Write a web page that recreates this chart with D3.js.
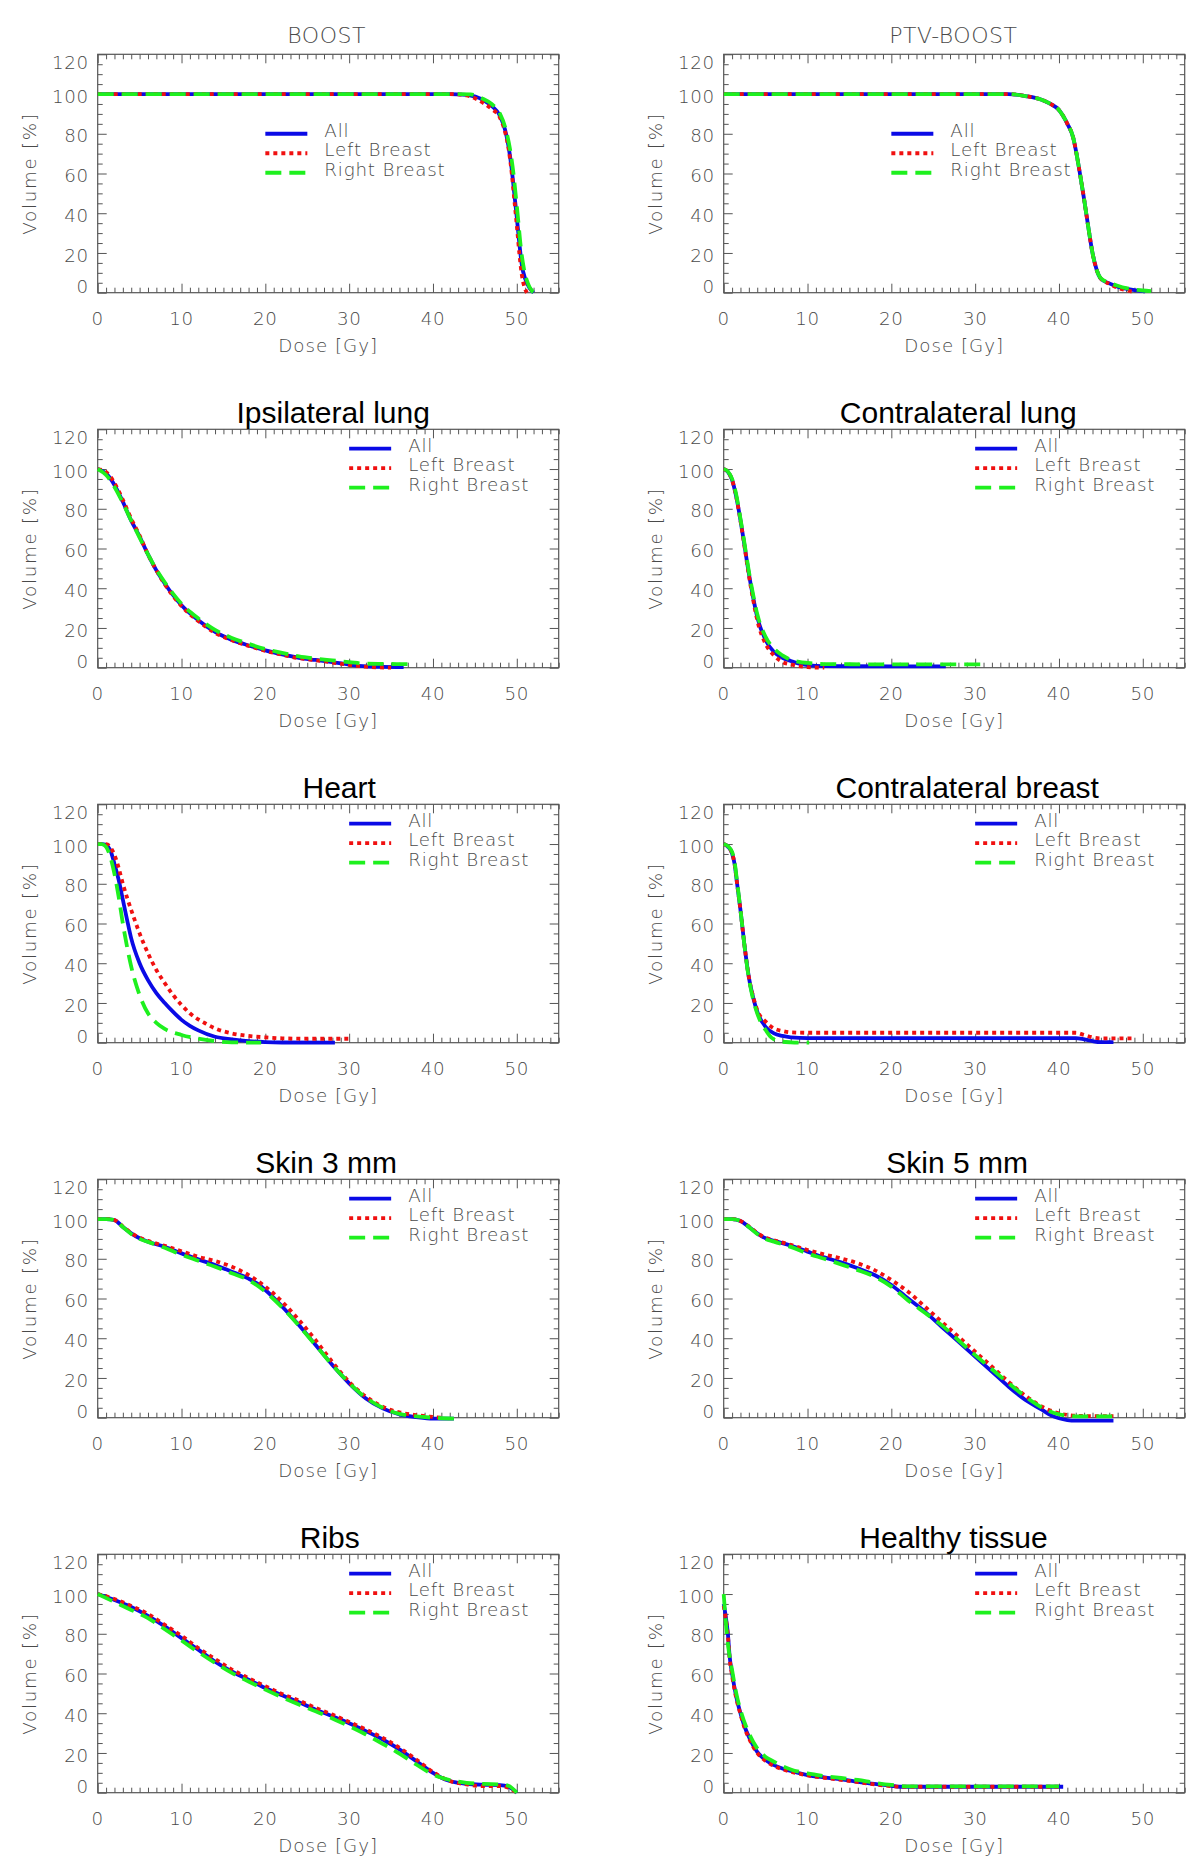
<!DOCTYPE html>
<html><head><meta charset="utf-8">
<script src="https://cdn.jsdelivr.net/npm/d3@7"></script>
<style>body{margin:0;background:#fff} svg{display:block}</style>
</head><body>
<svg id="chart" width="1200" height="1872"></svg>
<script>
// ---------------- data ----------------
const panelTitles = ["BOOST","PTV-BOOST","Ipsilateral lung","Contralateral lung","Heart","Contralateral breast","Skin 3 mm","Skin 5 mm","Ribs","Healthy tissue"];
const seriesNames = ["All","Left Breast","Right Breast"];
const xTickValues = [0,10,20,30,40,50];
const yTickValues = [0,20,40,60,80,100,120];
const xAxisTitle = "Dose [Gy]";
const yAxisTitle = "Volume [%]";

const boostAll = [[0,100],[42,100],[44,99.6],[46,97],[47,94],[48,89],[48.6,82],[49,74],[49.4,62],[49.7,50],[50,38],[50.3,25],[50.6,14],[51,7],[51.5,2.5],[52,0]];
const boostLeft = [[0,100],[42,100],[44,99.3],[46,95.5],[47,92.5],[48,88],[48.6,81],[49,73],[49.4,60],[49.7,47],[50,34],[50.3,20],[50.6,9],[50.9,3],[51.2,0]];
const boostRight = [[0,100],[43,100],[44.5,99.8],[46,97.5],[47,95],[48,90],[48.7,82],[49.2,72],[49.6,60],[49.9,48],[50.2,35],[50.5,22],[50.9,11],[51.3,5],[51.8,1],[52.1,0]];

const ptvAll = [[0,100],[34,100],[36,99],[38,97],[39,95],[40,92],[41,85],[41.7,78],[42,72],[42.5,60],[43,47],[43.5,33],[44,20],[44.5,11.5],[45,7],[46,4.7],[47,3],[48,2],[49,1.3],[50,0.8],[50.3,0.6]];
const ptvLeft = [[0,100],[34,100],[36,99],[38,97],[39,95],[40,92],[41,85],[41.7,78],[42,72],[42.5,60],[43,47],[43.5,33],[44,20],[44.5,11.5],[45,7],[46,4.5],[47,2.5],[48,1.2],[48.8,0.5]];
const ptvRight = [[0,100],[34,100],[36,99],[38,97],[39,95],[40,92],[41,85],[41.7,78],[42,72],[42.5,60],[43,47],[43.5,33],[44,20],[44.5,11.5],[45,7.2],[46,5],[47,3.5],[48,2.3],[49,1.6],[50,1.1],[51,0.8]];

const ipsiAll = [[0,100],[1,97.8],[2,92],[3,83.5],[4,74],[5,66],[6,57],[7,49],[8,42.4],[9,36.5],[10,31.4],[12,23.9],[14,18],[16,14],[18,11.2],[20,8.7],[22,6.7],[24,5],[26,3.9],[28,2.8],[30,1.6],[32,0.7],[34,0.4],[36.5,0.3]];
const ipsiLeft = [[0,100],[1,98.5],[2,93],[3,84.5],[4,75],[5,66.5],[6,57],[7,49],[8,42],[9,36],[10,31],[12,23.5],[14,17.6],[16,13.8],[18,11],[20,8.5],[22,6.5],[24,4.8],[26,3.7],[28,2.6],[30,1.4],[32,0.5],[35,0]];
const ipsiRight = [[0,100],[1,97],[2,91],[3,83],[4,74],[5,65.5],[6,57],[7,49.5],[8,43],[9,37.2],[10,32.2],[12,24.8],[14,19],[16,15],[18,12],[20,9.4],[22,7.5],[24,5.7],[26,4.6],[28,3.7],[30,2.8],[32,2],[34,1.9],[37,1.8]];

const contraLungAll = [[0,100],[0.5,98.6],[1,94.5],[1.5,86],[2,74.3],[2.5,61],[3,47.4],[3.5,35.6],[4,25.5],[5,13.8],[6,7.9],[7,5],[8,3.4],[9,2],[10,1.3],[12,0.8],[20,0.7],[26.5,0.7]];
const contraLungLeft = [[0,100],[0.5,98.6],[1,94.5],[1.5,86],[2,74],[2.5,60.5],[3,46.5],[3.5,34.5],[4,24],[5,12],[6,6.2],[7,2.9],[8,1.7],[9,0.8],[10,0.3],[12,0]];
const contraLungRight = [[0,100],[0.5,98.8],[1,95],[1.5,87],[2,75],[2.5,62],[3,48.5],[3.5,37],[4,27],[5,15.5],[6,9.6],[7,6.2],[8,4],[9,2.9],[10,2.4],[12,1.8],[20,1.7],[30.7,1.7]];

const heartAll = [[0,100],[0.5,100],[1,99.5],[1.5,97],[2,90],[2.5,82],[3,72],[3.5,62],[4,52.5],[5,40],[6,31.5],[7,25],[8,20],[9,15.5],[10,11.5],[11,8.5],[12,6.2],[14,3],[16,1.7],[18,0.8],[20,0.3],[22,0.1],[28.3,0]];
const heartLeft = [[0,100],[1,100],[1.5,98.5],[2,94.5],[2.5,88],[3,80],[4,66.8],[5,55],[6,45],[7,36.6],[8,30],[9,24],[10,19],[11,14.8],[12,11.7],[13,9.4],[14,7.2],[16,4.7],[18,3.4],[20,2.7],[22,2.2],[25,2],[30,2]];
const heartRight = [[0,100],[0.5,100],[1,98.6],[1.5,93.6],[2,85],[2.5,73.5],[3,60],[3.5,48.3],[4,38.3],[5,24],[6,14.8],[7,10],[8,6.9],[10,3.9],[12,2],[14,0.8],[16,0.2],[19.5,0]];

const contraBreastAll = [[0,100],[0.5,98.7],[1,95.3],[1.3,90],[1.6,80],[2,66.8],[2.5,48.3],[3,33],[3.5,23],[4,15.6],[5,8],[6,4.7],[7,3.4],[8,2.7],[10,2.3],[42,2.3],[43,1.7],[44,0.8],[45,0.3],[46.5,0.3]];
const contraBreastLeft = [[0,100],[0.5,98.7],[1,95.3],[1.3,90],[1.6,80],[2,66.8],[2.5,48.3],[3,33],[3.5,23.5],[4,16.4],[5,10.6],[6,7.2],[7,5.9],[8,5.2],[10,5],[42,5],[43,3.9],[44,2.7],[45,2.2],[49,2.2]];
const contraBreastRight = [[0,100],[0.5,98.9],[1,96],[1.3,91],[1.6,81],[2,67],[2.5,48],[3,32.5],[3.5,22],[4,14.8],[4.5,9.7],[5,6.4],[5.5,3.4],[6,1.7],[7,0.5],[8,0.2],[10.2,0]];

const skin3All = [[0,100],[1,100],[2,99.5],[3,96],[4,92.8],[5,90.3],[6,88.6],[8,86],[10,82.7],[12,79.7],[14,76.8],[16,73.5],[18,70],[19,67.6],[20,64.3],[22,56],[24,46.6],[26,36.6],[28,26.5],[30,17.3],[32,9.7],[34,4.7],[36,1.7],[38,0.3],[40,-0.5],[42.5,-0.5]];
const skin3Left = [[0,100],[1,100],[2,99.5],[3,96.3],[4,93],[5,90.6],[6,89],[8,86.5],[10,83.8],[12,81],[14,78.9],[16,76],[18,71.8],[20,66],[22,58.4],[24,49.2],[26,39],[28,28],[30,18],[32,10.6],[34,5.5],[36,2.7],[38,1.3],[40,0.4],[41,0]];
const skin3Right = [[0,100],[1,100],[2,99.5],[3,96],[4,92.5],[5,90],[6,88.5],[8,85.5],[10,82],[12,79],[14,76],[16,72.7],[18,69.3],[20,63.4],[22,55.5],[24,46.3],[26,36.5],[28,26.5],[30,17.5],[32,10],[34,5],[36,1.9],[38,0.7],[40,0],[42.5,-0.5]];

const skin5All = [[0,100],[1,100],[2,99],[3,96],[4,92.8],[5,90.3],[6,89],[8,86.6],[10,83.6],[12,80.7],[14,78.2],[16,75.2],[18,71.8],[20,66.8],[22,60],[24,53.4],[26,45.8],[28,38.3],[30,30.7],[32,23.2],[34,15.6],[36,8.9],[38,3.9],[39,1.3],[40,-0.3],[41,-1.2],[42,-1.5],[46.5,-1.5]];
const skin5Left = [[0,100],[1,100],[2,99],[3,96.3],[4,93],[5,90.6],[6,89.3],[8,87],[10,84.4],[12,82.2],[14,80.2],[16,77.7],[18,74.3],[20,69.3],[22,63.4],[24,55.9],[26,48.3],[28,40.8],[30,33.2],[32,25.7],[34,18],[36,11],[38,5.5],[40,2.2],[42,1],[44,0.8],[46.5,0.8]];
const skin5Right = [[0,100],[1,100],[2,99],[3,96],[4,92.5],[5,90],[6,88.6],[8,86],[10,82.7],[12,80],[14,77.2],[16,74.3],[18,71],[20,66],[22,59],[24,52.8],[26,46.6],[28,39],[30,31.5],[32,24.4],[34,17.3],[36,10.6],[38,5],[40,1.7],[42,0.7],[47,0.7]];

const ribsAll = [[0,100],[2,97],[4,93.5],[6,89],[8,83.7],[10,77.8],[12,72],[14,66],[16,61],[18,56.9],[20,52.7],[22,49],[24,45.5],[26,41.8],[28,38.5],[30,35],[32,31],[34,26.8],[36,21.8],[38,15.9],[40,10],[41,7.5],[42,5.9],[44,4.5],[46,4],[48,3.8],[49,3],[50,0]];
const ribsLeft = [[0,100],[2,97.5],[4,94],[6,90],[8,84.5],[10,79],[12,72.8],[14,67.3],[16,62],[18,57.7],[20,53.6],[22,49.7],[24,46.4],[26,42.7],[28,39.3],[30,35.6],[32,31.8],[34,27.6],[36,22.6],[38,16.7],[40,10.4],[42,5.9],[44,4.2],[46,3.3],[48,3.3],[49,2.5],[50,0]];
const ribsRight = [[0,100],[2,96],[4,92],[6,87.9],[8,82.3],[10,76.6],[12,70.8],[14,65.3],[16,60.3],[18,56],[20,51.9],[22,48],[24,44.4],[26,41],[28,37.3],[30,33.5],[32,29.3],[34,24.6],[36,19.7],[38,14.2],[40,9.2],[42,6.4],[44,5],[46,4.4],[48,4.2],[49,3.5],[50,0]];

const healthyAll = [[0,95],[0.2,90],[0.5,80],[0.7,69],[1,60],[1.5,48.3],[2,40],[2.5,33.2],[3,28.2],[4,20.6],[5,16.4],[6,13.9],[7,12.2],[8,10.9],[10,8.9],[12,7.7],[14,6.7],[16,5.5],[18,4.4],[20,3.5],[21,3],[30,3],[40.5,3]];
const healthyLeft = [[0,94],[0.2,89],[0.5,79],[0.7,68],[1,59],[1.5,47.5],[2,39.5],[2.5,32.5],[3,27.5],[4,20],[5,16],[6,13.5],[7,11.8],[8,10.6],[10,8.7],[12,7.5],[14,6.5],[16,5.3],[18,4.2],[20,3.3],[21,3],[30,3],[40,3]];
const healthyRight = [[0,100],[0.3,83.6],[0.5,75],[1,61.7],[1.5,50],[2,41.6],[3,30],[4,22.3],[5,18],[6,15.6],[8,11.7],[10,9.7],[12,8.4],[14,7.4],[16,6.4],[18,5],[20,3.9],[22,3.2],[30,3.2],[40,3.2]];

const panelSeries = [
  [boostAll, boostLeft, boostRight],
  [ptvAll, ptvLeft, ptvRight],
  [ipsiAll, ipsiLeft, ipsiRight],
  [contraLungAll, contraLungLeft, contraLungRight],
  [heartAll, heartLeft, heartRight],
  [contraBreastAll, contraBreastLeft, contraBreastRight],
  [skin3All, skin3Left, skin3Right],
  [skin5All, skin5Left, skin5Right],
  [ribsAll, ribsLeft, ribsRight],
  [healthyAll, healthyLeft, healthyRight]
];

// ---------------- layout / style ----------------
const colLeft = [97.7, 723.7];
const rowTop = [54.3, 429.3, 804.3, 1179.3, 1554.3];
const W = 461, H = 238.4;
const titleDx = [-1.6, -0.9, 5, 4, 11, 13, -2, 3, 1.6, -0.7];
const seriesColor = ["#0a0ae6", "#f01010", "#1ef01e"];
const seriesDash = [null, "4,4", "16,8"];
const gray = "#4a4a4a";
const frameColor = "#555";
const hFont = "'DejaVu Sans', sans-serif";

const svg = d3.select("#chart");
const x = d3.scaleLinear().domain([0, 55]).range([0, W]);
const y = d3.scaleLinear().domain([0, 120]).range([H, 0]);
const line = d3.line().x(d => x(d[0])).y(d => y(d[1])).curve(d3.curveMonotoneX);

panelTitles.forEach((title, i) => {
  const col = i % 2, row = Math.floor(i / 2);
  const g = svg.append("g").attr("transform", `translate(${colLeft[col]},${rowTop[row]})`);

  // axes ticks (inward, all four sides)
  const minorX = d3.range(0, 56, 1).filter(v => v % 10 !== 0);
  const minorY = d3.range(0, 121, 5).filter(v => v % 20 !== 0);
  const styleAxis = sel => {
    sel.select(".domain").remove();
    sel.selectAll("line").attr("stroke", frameColor).attr("stroke-width", 1);
    sel.selectAll("text").remove();
  };
  g.append("g").attr("transform", `translate(0,${H})`).call(d3.axisBottom(x).tickValues(xTickValues).tickSize(-9)).call(styleAxis);
  g.append("g").attr("transform", `translate(0,${H})`).call(d3.axisBottom(x).tickValues(minorX).tickSize(-5)).call(styleAxis);
  g.append("g").call(d3.axisTop(x).tickValues(xTickValues).tickSize(-9)).call(styleAxis);
  g.append("g").call(d3.axisTop(x).tickValues(minorX).tickSize(-5)).call(styleAxis);
  g.append("g").call(d3.axisLeft(y).tickValues(yTickValues).tickSize(-9)).call(styleAxis);
  g.append("g").call(d3.axisLeft(y).tickValues(minorY).tickSize(-5)).call(styleAxis);
  g.append("g").attr("transform", `translate(${W},0)`).call(d3.axisRight(y).tickValues(yTickValues).tickSize(-9)).call(styleAxis);
  g.append("g").attr("transform", `translate(${W},0)`).call(d3.axisRight(y).tickValues(minorY).tickSize(-5)).call(styleAxis);

  g.append("rect").attr("x", 0).attr("y", 0).attr("width", W).attr("height", H)
    .attr("fill", "none").attr("stroke", frameColor).attr("stroke-width", 1.2);

  // tick labels
  const tl = g.append("g").attr("font-family", hFont).attr("font-size", 18.3).attr("font-weight", 200)
    .attr("fill", gray).attr("letter-spacing", 0.6);
  tl.selectAll(".xl").data(xTickValues).join("text")
    .attr("x", d => x(d)).attr("y", H + 32).attr("text-anchor", "middle").text(d => d);
  tl.selectAll(".yl").data(yTickValues).join("text")
    .attr("x", -9).attr("text-anchor", "end")
    .attr("y", d => Math.max(8.4, Math.min(H - 6.6, y(d) + 2)) + 6.6)
    .text(d => d);

  // axis titles
  g.append("text").attr("x", W / 2).attr("y", H + 59).attr("text-anchor", "middle")
    .attr("font-family", hFont).attr("font-size", 18.3).attr("font-weight", 200).attr("fill", gray)
    .attr("letter-spacing", 1).text(xAxisTitle);
  g.append("text").attr("transform", `translate(-62,${H / 2}) rotate(-90)`).attr("text-anchor", "middle")
    .attr("font-family", hFont).attr("font-size", 18.3).attr("font-weight", 200).attr("fill", gray)
    .attr("letter-spacing", 1.7).text(yAxisTitle);

  // title
  if (i < 2) {
    g.append("text").attr("x", W / 2 + titleDx[i]).attr("y", -11.6).attr("text-anchor", "middle")
      .attr("font-family", hFont).attr("font-size", 22).attr("font-weight", 200).attr("fill", gray)
      .attr("letter-spacing", 0.5).text(title);
  } else {
    g.append("text").attr("x", W / 2 + titleDx[i]).attr("y", -6).attr("text-anchor", "middle")
      .attr("font-family", "'Liberation Sans', Arial, sans-serif").attr("font-size", 30).attr("fill", "#000")
      .text(title);
  }

  // curves
  panelSeries[i].forEach((pts, s) => {
    g.append("path").datum(pts).attr("d", line).attr("fill", "none")
      .attr("stroke", seriesColor[s]).attr("stroke-width", 3.8)
      .attr("stroke-dasharray", seriesDash[s]);
  });

  // legend
  const lx = i < 2 ? x(20) : x(30);
  const ly = i < 2 ? y(80) : y(110.3);
  seriesNames.forEach((name, s) => {
    const yy = ly + s * 19.5;
    g.append("line").attr("x1", lx).attr("x2", lx + 42).attr("y1", yy).attr("y2", yy)
      .attr("stroke", seriesColor[s]).attr("stroke-width", 3.8).attr("stroke-dasharray", seriesDash[s]);
    g.append("text").attr("x", lx + 59).attr("y", yy + 3)
      .attr("font-family", hFont).attr("font-size", 18.3).attr("font-weight", 200).attr("fill", gray)
      .attr("letter-spacing", 0.8).text(name);
  });
});
</script>
</body></html>
